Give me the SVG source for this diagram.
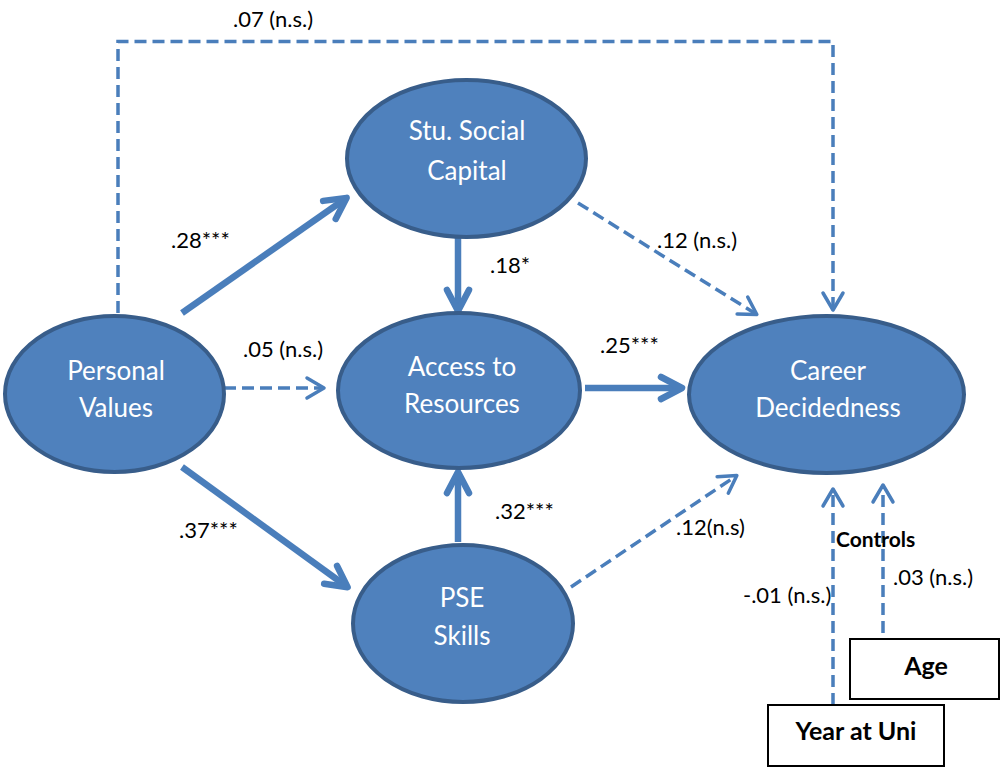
<svg xmlns="http://www.w3.org/2000/svg" width="1000" height="769" viewBox="0 0 1000 769">
<style>
.node ellipse{fill:#4F81BD;stroke:#385D8A;stroke-width:4}
.node text{fill:#FFFFFF;font-family:Lato,"Liberation Sans",sans-serif;font-size:26px;text-anchor:middle}
.box rect{fill:#FFFFFF;stroke:#000000;stroke-width:2}
.box text{fill:#000000;font-family:Lato,"Liberation Sans",sans-serif;font-size:25px;font-weight:bold;text-anchor:middle}
.solid{fill:none;stroke:#4A7EBB;stroke-width:6.5;marker-end:url(#big)}
.dash{fill:none;stroke:#4A7EBB;stroke-width:3.5;stroke-dasharray:12 6;marker-end:url(#small)}
.lbl{fill:#000000;font-family:Lato,"Liberation Sans",sans-serif;font-size:22px}
.ctl{fill:#000000;font-family:Lato,"Liberation Sans",sans-serif;font-size:21px;font-weight:bold}
</style>
<defs>
<marker id="big" markerUnits="userSpaceOnUse" orient="auto" refX="-2" refY="0" markerWidth="60" markerHeight="60" overflow="visible">
<path d="M-21,-11 L0,0 L-21,11" fill="none" stroke="#4A7EBB" stroke-width="6.5" stroke-linecap="round" stroke-linejoin="round"/>
</marker>
<marker id="small" markerUnits="userSpaceOnUse" orient="auto" refX="-1" refY="0" markerWidth="40" markerHeight="40" overflow="visible">
<path d="M-17,-10 L0,0 L-17,10" fill="none" stroke="#4A7EBB" stroke-width="3.5" stroke-linecap="round" stroke-linejoin="round"/>
</marker>
</defs>

<g id="connectors">
<path class="dash" d="M118,313 V41.5 H833 V309"/>
<path class="solid" d="M182,313 L345,199"/>
<path class="solid" d="M458,218 V309"/>
<path class="dash" d="M578,203 L756,314"/>
<path class="dash" d="M224,388 H323"/>
<path class="solid" d="M585,388 H680"/>
<path class="solid" d="M182,467 L346,586"/>
<path class="solid" d="M458,542 V474"/>
<path class="dash" d="M571,587 L736,476"/>
<path class="dash" d="M833,705 V490"/>
<path class="dash" d="M883,633 V486"/>
</g>

<g id="labels">
<text class="lbl" x="233" y="27">.07 (n.s.)</text>
<text class="lbl" x="171" y="248">.28***</text>
<text class="lbl" x="490" y="273">.18*</text>
<text class="lbl" x="657" y="248">.12 (n.s.)</text>
<text class="lbl" x="243" y="357">.05 (n.s.)</text>
<text class="lbl" x="600" y="353">.25***</text>
<text class="lbl" x="179" y="538">.37***</text>
<text class="lbl" x="495" y="519">.32***</text>
<text class="lbl" x="676" y="535">.12(n.s)</text>
<text class="ctl" x="836" y="547">Controls</text>
<text class="lbl" x="743" y="603">-.01 (n.s.)</text>
<text class="lbl" x="893" y="585">.03 (n.s.)</text>
</g>

<g id="personal-values" class="node">
<ellipse cx="114.5" cy="394" rx="109.5" ry="78"/>
<text x="116" y="380">Personal</text>
<text x="116" y="417">Values</text>
</g>

<g id="social-capital" class="node">
<ellipse cx="466.5" cy="158.5" rx="119.5" ry="78.5"/>
<text x="467" y="140">Stu. Social</text>
<text x="467" y="180">Capital</text>
</g>

<g id="access-resources" class="node">
<ellipse cx="459" cy="390.5" rx="121" ry="77.5"/>
<text x="462" y="376">Access to</text>
<text x="462" y="413">Resources</text>
</g>

<g id="pse-skills" class="node">
<ellipse cx="463" cy="623.5" rx="110" ry="78.5"/>
<text x="462" y="607">PSE</text>
<text x="462" y="645">Skills</text>
</g>

<g id="career-decidedness" class="node">
<ellipse cx="826.5" cy="394.5" rx="137.5" ry="78.5"/>
<text x="828" y="380">Career</text>
<text x="828" y="417">Decidedness</text>
</g>

<g id="age" class="box">
<rect x="850" y="639" width="149" height="60"/>
<text x="926" y="675">Age</text>
</g>

<g id="year-at-uni" class="box">
<rect x="768" y="705" width="176" height="61"/>
<text x="856" y="740">Year at Uni</text>
</g>
</svg>
